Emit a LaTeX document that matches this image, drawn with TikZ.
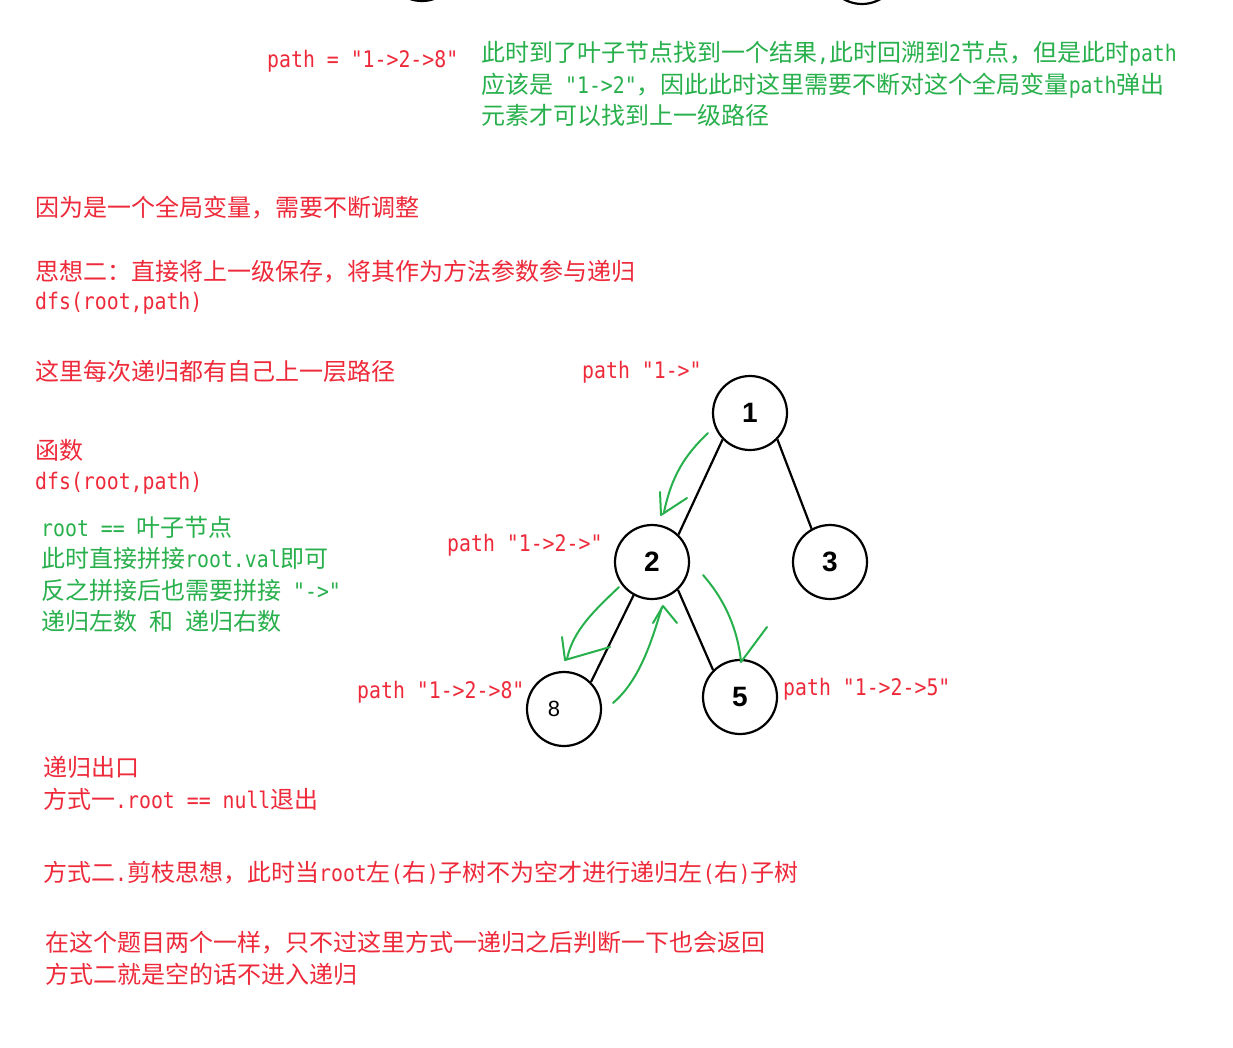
\documentclass[tikz,border=0pt]{standalone}
\usepackage{fontspec}
\setmainfont{Noto Sans CJK SC}
\newfontfamily\mono{DejaVu Sans Mono}[Scale=0.95,FakeStretch=0.87,Ligatures=TeXOff]
\newfontfamily\digit{Liberation Sans}
\usepackage{xcolor}
\usetikzlibrary{positioning}
\definecolor{notered}{RGB}{238,42,58}
\definecolor{notegreen}{RGB}{40,176,76}
\newcommand{\en}[1]{{\mono #1}}

\begin{document}
\begin{tikzpicture}[
  x=1pt, y=-1pt,
  redtxt/.style={anchor=base west, inner sep=0pt, text=notered, font=\fontsize{24}{30}\selectfont},
  greentxt/.style={redtxt, text=notegreen},
  treenode/.style={circle, draw=black, line width=2.2pt, minimum size=74pt, inner sep=0pt, font=\digit\bfseries\fontsize{28}{30}\selectfont},
  treeedge/.style={line width=2.2pt},
  handstroke/.style={draw=notegreen, line width=2pt, line cap=round, line join=round}
]
\fill[white] (0,0) rectangle (1233,1047);
\useasboundingbox (0,0) rectangle (1233,1047);

% cut-off nodes of the previous picture
\begin{scope}
\clip (0,0) rectangle (1233,1047);
\node[treenode] (top1) at (422,-36) {};
\node[treenode] (top2) at (862,-33) {};
\end{scope}

% note on the global path
\node[redtxt] (gpath) at (267,67) {\en{path = "1->2->8"}};
\node[greentxt] (g1) at (481,61) {此时到了叶子节点找到一个结果\en{,}此时回溯到\en{2}节点，但是此时\en{path}};
\node[greentxt] (g2) at (481,93) {应该是\en{ "1->2"}，因此此时这里需要不断对这个全局变量\en{path}弹出};
\node[greentxt] (g3) at (481,124) {元素才可以找到上一级路径};

\node[redtxt] (r1) at (35,216) {因为是一个全局变量，需要不断调整};
\node[redtxt] (r2) at (35,280) {思想二：直接将上一级保存，将其作为方法参数参与递归};
\node[redtxt] (r3) at (35,309) {\en{dfs(root,path)}};
\node[redtxt] (r4) at (35,380) {这里每次递归都有自己上一层路径};
\node[redtxt] (r5) at (35,459) {函数};
\node[redtxt] (r6) at (35,489) {\en{dfs(root,path)}};

\node[greentxt] (c1) at (41,536) {\en{root == }叶子节点};
\node[greentxt] (c2) at (41,567) {此时直接拼接\en{root.val}即可};
\node[greentxt] (c3) at (41,599) {反之拼接后也需要拼接\en{ "->"}};
\node[greentxt] (c4) at (41,630) {递归左数\en{ }和\en{ }递归右数};

\node[redtxt] (e1) at (43,776) {递归出口};
\node[redtxt] (e2) at (43,808) {方式一\en{.root == null}退出};
\node[redtxt] (e3) at (43,881) {方式二\en{.}剪枝思想，此时当\en{root}左\en{(}右\en{)}子树不为空才进行递归左\en{(}右\en{)}子树};
\node[redtxt] (e4) at (45,951) {在这个题目两个一样，只不过这里方式一递归之后判断一下也会返回};
\node[redtxt] (e5) at (45,983) {方式二就是空的话不进入递归};

% tree
\node[treenode] (n1) at (750,413) {1};
\node[treenode] (n2) at (652,562) {2};
\node[treenode] (n3) at (830,562) {3};
\node[treenode, font=\digit\fontsize{22}{24}\selectfont] (n8) at (564,709) {8\hspace*{20pt}};
\node[treenode] (n5) at (740,697) {5};

\draw[treeedge] (n1.224) -- (n2.46);
\draw[treeedge] (n1.316) -- (n3.119);
\draw[treeedge] (n2.241) -- (n8.45);
\draw[treeedge] (n2.313) -- (n5.135);

\node[redtxt] (p1) at (582,378) {\en{path "1->"}};
\node[redtxt] (p2) at (447,551) {\en{path "1->2->"}};
\node[redtxt] (p8) at (357,698) {\en{path "1->2->8"}};
\node[redtxt] (p5) at (783,695) {\en{path "1->2->5"}};

% hand drawn arrows
\draw[handstroke] (708,433) .. controls (685,455) and (672,475) .. (664,512);
\draw[handstroke] (660,492) -- (661,515) -- (687,498);
\draw[handstroke] (619,587) .. controls (595,610) and (573,630) .. (567,659);
\draw[handstroke] (562,637) -- (565,660) -- (610,647);
\draw[handstroke] (613,703) .. controls (640,680) and (652,640) .. (662,607);
\draw[handstroke] (653,623) -- (663,606) -- (677,623);
\draw[handstroke] (703,575) .. controls (725,600) and (738,630) .. (741,662);
\draw[handstroke] (767,627) -- (741,662);
\end{tikzpicture}
\end{document}
